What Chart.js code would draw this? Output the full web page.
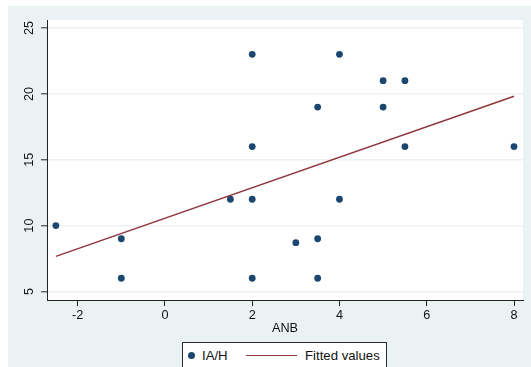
<!DOCTYPE html>
<html>
<head>
<meta charset="utf-8">
<script src="https://cdn.jsdelivr.net/npm/chart.js@4/dist/chart.umd.min.js"></script>
<style>
  html, body { margin: 0; padding: 0; background: #ffffff; }
  body { width: 531px; height: 367px; position: relative; overflow: hidden; font-family: "Liberation Sans", Arial, sans-serif; }
  #bg { position: absolute; left: 8px; top: 6px; right: 0; bottom: 0; background: #eaf2f3; }
  #wrap { position: absolute; left: 0; top: 0; width: 531px; height: 367px; }
  #legend { position: absolute; left: 182px; top: 342px; width: 205px; height: 27px; background: #ffffff; border: 1px solid #2b2b2b; box-sizing: border-box; }
  .li { position: absolute; top: 0; height: 25px; line-height: 25px; font-size: 13.2px; color: #111; white-space: nowrap; }
  .dot { position: absolute; width: 7px; height: 7px; border-radius: 50%; top: 9px; }
  .ln { position: absolute; height: 1.4px; top: 12px; }
</style>
</head>
<body>
<div id="bg"></div>
<div id="wrap"><canvas id="c" width="531" height="367"></canvas></div>
<div id="legend"></div>
<script>
// ---- data ----
const anb = [-2.5, -1, -1, 1.5, 2, 2, 2, 2, 3, 3.5, 3.5, 3.5, 4, 4, 5, 5, 5.5, 5.5, 8];
const iah = [10, 9, 6, 12, 23, 16, 12, 6, 8.7, 19, 9, 6, 23, 12, 21, 19, 21, 16, 16];
const fitX = [-2.5, 8];
const fitY = [7.66, 19.82];
const xTicks = [-2, 0, 2, 4, 6, 8];
const yTicks = [5, 10, 15, 20, 25];
const seriesLabels = ['IA/H', 'Fitted values'];
const xTitle = 'ANB';

const navy = '#1a476f';
const maroon = '#90353b';

const scatterPts = anb.map((x, i) => ({ x: x, y: iah[i] }));
const fitPts = fitX.map((x, i) => ({ x: x, y: fitY[i] }));

const plotBg = {
  id: 'plotBg',
  beforeDraw(chart) {
    const { ctx, chartArea: a } = chart;
    ctx.save();
    ctx.fillStyle = '#ffffff';
    ctx.fillRect(a.left, a.top, a.right - a.left, a.bottom - a.top);
    ctx.restore();
  }
};

const chart = new Chart(document.getElementById('c'), {
  type: 'scatter',
  data: {
    datasets: [
      {
        label: seriesLabels[0],
        data: scatterPts,
        backgroundColor: navy,
        borderColor: navy,
        pointRadius: 3.4,
        pointBorderWidth: 0,
        pointHoverRadius: 3.4,
        order: 2
      },
      {
        label: seriesLabels[1],
        type: 'line',
        data: fitPts,
        borderColor: maroon,
        backgroundColor: maroon,
        borderWidth: 1.4,
        pointRadius: 0,
        fill: false,
        tension: 0,
        order: 1
      }
    ]
  },
  options: {
    responsive: false,
    animation: false,
    events: [],
    layout: { padding: { left: 8, top: 20, right: 8, bottom: 31 } },
    plugins: {
      legend: { display: false },
      tooltip: { enabled: false }
    },
    scales: {
      x: {
        type: 'linear',
        min: -2.703,
        max: 8.206,
        afterBuildTicks: s => { s.ticks = xTicks.map(v => ({ value: v })); },
        afterFit: s => { s.height = 36; },
        grid: { display: true, drawOnChartArea: false, drawTicks: true, tickLength: 6, tickColor: '#222', tickWidth: 1 },
        border: { display: true, color: '#222', width: 1 },
        ticks: {
          color: '#111',
          font: { family: '"Liberation Sans", Arial, sans-serif', size: 12.7 },
          padding: 2,
          maxRotation: 0,
          minRotation: 0,
          callback: v => String(v)
        },
        title: {
          display: true,
          text: xTitle,
          color: '#111',
          font: { family: '"Liberation Sans", Arial, sans-serif', size: 12.7 },
          padding: { top: 0, bottom: 0 }
        }
      },
      y: {
        type: 'linear',
        min: 4.35,
        max: 25.61,
        afterBuildTicks: s => { s.ticks = yTicks.map(v => ({ value: v })); },
        afterFit: s => { s.width = 39; },
        grid: { display: true, drawOnChartArea: true, drawTicks: true, tickLength: 6, color: '#eaf2f3', lineWidth: 1.6, tickColor: '#222', tickWidth: 1 },
        border: { display: true, color: '#222', width: 1 },
        ticks: {
          color: '#111',
          font: { family: '"Liberation Sans", Arial, sans-serif', size: 12.7 },
          padding: 4,
          minRotation: 90,
          maxRotation: 90,
          crossAlign: 'center',
          callback: v => String(v)
        }
      }
    }
  },
  plugins: [plotBg]
});

// HTML legend generated from the chart's datasets
(function buildLegend() {
  const lg = document.getElementById('legend');
  const ds = chart.data.datasets;
  // item 1: marker
  const d = document.createElement('div');
  d.className = 'dot';
  d.style.left = '4.5px';
  d.style.background = ds[0].backgroundColor;
  lg.appendChild(d);
  const t1 = document.createElement('div');
  t1.className = 'li';
  t1.style.left = '19px';
  t1.textContent = ds[0].label;
  lg.appendChild(t1);
  // item 2: line
  const l = document.createElement('div');
  l.className = 'ln';
  l.style.left = '63px';
  l.style.width = '51px';
  l.style.background = ds[1].borderColor;
  lg.appendChild(l);
  const t2 = document.createElement('div');
  t2.className = 'li';
  t2.style.left = '122px';
  t2.textContent = ds[1].label;
  lg.appendChild(t2);
})();
</script>
</body>
</html>
